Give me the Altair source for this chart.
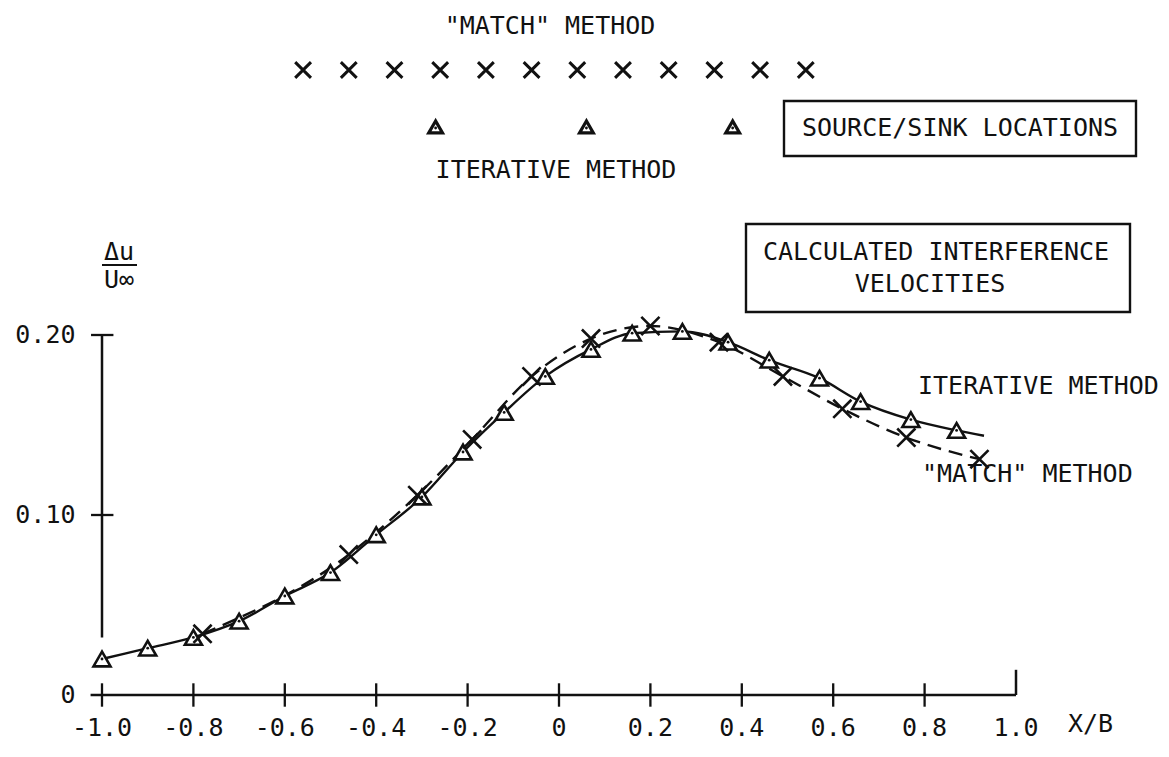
import altair as alt
import pandas as pd

# ---------------- data ----------------
# Iterative method (triangles, solid line)
iter_x = [-1.0, -0.9, -0.8, -0.7, -0.6, -0.5, -0.4, -0.3, -0.21, -0.12,
          -0.03, 0.07, 0.16, 0.27, 0.37, 0.46, 0.57, 0.66, 0.77, 0.87]
iter_y = [0.020, 0.026, 0.032, 0.041, 0.055, 0.068, 0.089, 0.110, 0.135, 0.157,
          0.177, 0.192, 0.201, 0.202, 0.196, 0.186, 0.176, 0.163, 0.153, 0.147]
iter_end_x = [0.93]
iter_end_y = [0.144]

# "MATCH" method (crosses, dashed line)
match_x = [-0.78, -0.46, -0.31, -0.19, -0.06, 0.07, 0.20, 0.35, 0.49, 0.62, 0.76, 0.92]
match_y = [0.034, 0.078, 0.111, 0.142, 0.177, 0.198, 0.205, 0.196, 0.177, 0.159, 0.143, 0.131]

# Source / sink locations
src_match_x = [-0.56, -0.46, -0.36, -0.26, -0.16, -0.06, 0.04, 0.14, 0.24, 0.34, 0.44, 0.54]
src_iter_x = [-0.27, 0.06, 0.38]

# Axes
x_ticks = [-1.0, -0.8, -0.6, -0.4, -0.2, 0.0, 0.2, 0.4, 0.6, 0.8]
x_end_tick = [1.0]
x_tick_labels = ["-1.0", "-0.8", "-0.6", "-0.4", "-0.2", "0", "0.2", "0.4", "0.6", "0.8", "1.0"]
x_label_vals = [-1.0, -0.8, -0.6, -0.4, -0.2, 0.0, 0.2, 0.4, 0.6, 0.8, 1.0]
y_ticks = [0.1, 0.2]
y_tick_labels = ["0", "0.10", "0.20"]
y_label_vals = [0.0, 0.1, 0.2]

# ---------------- scales ----------------
W, H = 1169, 757
PX_PER_X = 457.0
PX_PER_Y = 1800.0
x0_px, y0_px = 102.0, 695.0
xmin = -1.0 - x0_px / PX_PER_X
xmax = xmin + W / PX_PER_X
ymax = y0_px / PX_PER_Y
ymin = ymax - H / PX_PER_Y

xs = alt.Scale(domain=[xmin, xmax], nice=False, zero=False)
ys = alt.Scale(domain=[ymin, ymax], nice=False, zero=False)

def X(f="x"):
    return alt.X(f"{f}:Q", scale=xs, axis=None)

def Y(f="y"):
    return alt.Y(f"{f}:Q", scale=ys, axis=None)

FONT = "DejaVu Sans Mono"
FS = 25
INK = "#111111"

iter_df = pd.DataFrame({"x": iter_x, "y": iter_y})
iter_line_df = pd.DataFrame({"x": iter_x + iter_end_x, "y": iter_y + iter_end_y})
match_df = pd.DataFrame({"x": match_x, "y": match_y})

X_SHAPE = "M-1,-1L1,1M-1,1L1,-1"

# ---------------- axes ----------------
x_axis = alt.Chart(pd.DataFrame({"x": [-1.025], "x2": [1.0], "y": [0.0]})).mark_rule(
    color=INK, strokeWidth=2.5).encode(x=X(), x2="x2:Q", y=Y())
x_tick_rules = alt.Chart(pd.DataFrame({"x": x_ticks, "y": [-0.0065] * len(x_ticks),
                                       "y2": [0.0065] * len(x_ticks)})).mark_rule(
    color=INK, strokeWidth=2.3).encode(x=X(), y=Y(), y2="y2:Q")
x_end_rule = alt.Chart(pd.DataFrame({"x": x_end_tick, "y": [0.0], "y2": [0.014]})).mark_rule(
    color=INK, strokeWidth=2.5).encode(x=X(), y=Y(), y2="y2:Q")
y_axis = alt.Chart(pd.DataFrame({"x": [-1.0], "y": [0.032], "y2": [0.2]})).mark_rule(
    color=INK, strokeWidth=2.5).encode(x=X(), y=Y(), y2="y2:Q")
y_tick_rules = alt.Chart(pd.DataFrame({"x": [-1.024] * len(y_ticks), "x2": [-0.975] * len(y_ticks),
                                       "y": y_ticks})).mark_rule(
    color=INK, strokeWidth=2.3).encode(x=X(), x2="x2:Q", y=Y())

x_labels = alt.Chart(pd.DataFrame({"x": x_label_vals, "y": [-0.0185] * len(x_label_vals),
                                   "t": x_tick_labels})).mark_text(
    font=FONT, fontSize=FS, color=INK, align="center", baseline="middle").encode(
    x=X(), y=Y(), text="t:N")
y_labels = alt.Chart(pd.DataFrame({"x": [-1.058] * 3, "y": y_label_vals, "t": y_tick_labels})).mark_text(
    font=FONT, fontSize=FS, color=INK, align="right", baseline="middle").encode(
    x=X(), y=Y(), text="t:N")
xb_label = alt.Chart(pd.DataFrame({"t": ["X/B"]})).mark_text(
    font=FONT, fontSize=FS, color=INK, align="left", baseline="middle").encode(
    x=alt.value(1068), y=alt.value(724), text="t:N")

# ---------------- curves ----------------
iter_line = alt.Chart(iter_line_df).mark_line(color=INK, strokeWidth=2.4, interpolate="monotone").encode(
    x=X(), y=Y())
match_line = alt.Chart(match_df).mark_line(color=INK, strokeWidth=2.4, strokeDash=[14, 8],
                                          interpolate="monotone").encode(x=X(), y=Y())
iter_pts = alt.Chart(iter_df).mark_point(shape="triangle-up", filled=True, fill="white",
                                         stroke=INK, strokeWidth=2.6, size=290, opacity=1).encode(
    x=X(), y=Y())
iter_dots = alt.Chart(iter_df).mark_point(shape="circle", filled=True, color=INK, size=8, opacity=1).encode(
    x=X(), y=Y())
match_pts = alt.Chart(match_df).mark_point(shape=X_SHAPE, filled=False, stroke=INK,
                                           strokeWidth=2.6, size=330, opacity=1).encode(x=X(), y=Y())

# ---------------- source / sink locations ----------------
src_m = alt.Chart(pd.DataFrame({"x": src_match_x})).mark_point(
    shape=X_SHAPE, filled=False, stroke=INK, strokeWidth=3.0, size=250, opacity=1).encode(
    x=X(), y=alt.value(70))
src_i = alt.Chart(pd.DataFrame({"x": src_iter_x})).mark_point(
    shape="triangle-up", filled=False, stroke=INK, strokeWidth=3.2, size=190, opacity=1).encode(
    x=X(), y=alt.value(127))
src_i_dots = alt.Chart(pd.DataFrame({"x": src_iter_x})).mark_point(
    shape="circle", filled=True, color=INK, size=8, opacity=1).encode(x=X(), y=alt.value(128))

def txt(s, x, y, align="center"):
    return alt.Chart(pd.DataFrame({"t": [s]})).mark_text(
        font=FONT, fontSize=FS, color=INK, align=align, baseline="middle").encode(
        x=alt.value(x), y=alt.value(y), text="t:N")

def box(x1, x2, y1, y2):
    return alt.Chart(pd.DataFrame({"a": [0]})).mark_rect(
        fill="white", fillOpacity=0, stroke=INK, strokeWidth=2.4).encode(
        x=alt.value(x1), x2=alt.value(x2), y=alt.value(y1), y2=alt.value(y2))

annotations = [
    txt('"MATCH" METHOD', 550, 26),
    txt("ITERATIVE METHOD", 556, 170),
    box(784, 1136, 101, 156),
    txt("SOURCE/SINK LOCATIONS", 960, 128),
    box(746, 1130, 224, 312),
    txt("CALCULATED INTERFERENCE", 936, 252),
    txt("VELOCITIES", 930, 284),
    txt("ITERATIVE METHOD", 918, 386, align="left"),
    txt('"MATCH" METHOD', 922, 474, align="left"),
    txt("Δu", 119, 252),
    txt("U∞", 119, 280),
]
frac_bar = alt.Chart(pd.DataFrame({"a": [0]})).mark_rule(color=INK, strokeWidth=2.2).encode(
    x=alt.value(102), x2=alt.value(137), y=alt.value(265))

chart = alt.layer(
    x_axis, x_tick_rules, x_end_rule, y_axis, y_tick_rules,
    x_labels, y_labels, xb_label,
    iter_line, match_line, iter_pts, iter_dots, match_pts,
    src_m, src_i, src_i_dots, frac_bar, *annotations
).properties(
    width=W, height=H, padding=0,
    autosize=alt.AutoSizeParams(type="none"),
    background="white",
).configure_view(stroke=None)

chart.save("out.html", embed_options={"renderer": "svg", "actions": False})
